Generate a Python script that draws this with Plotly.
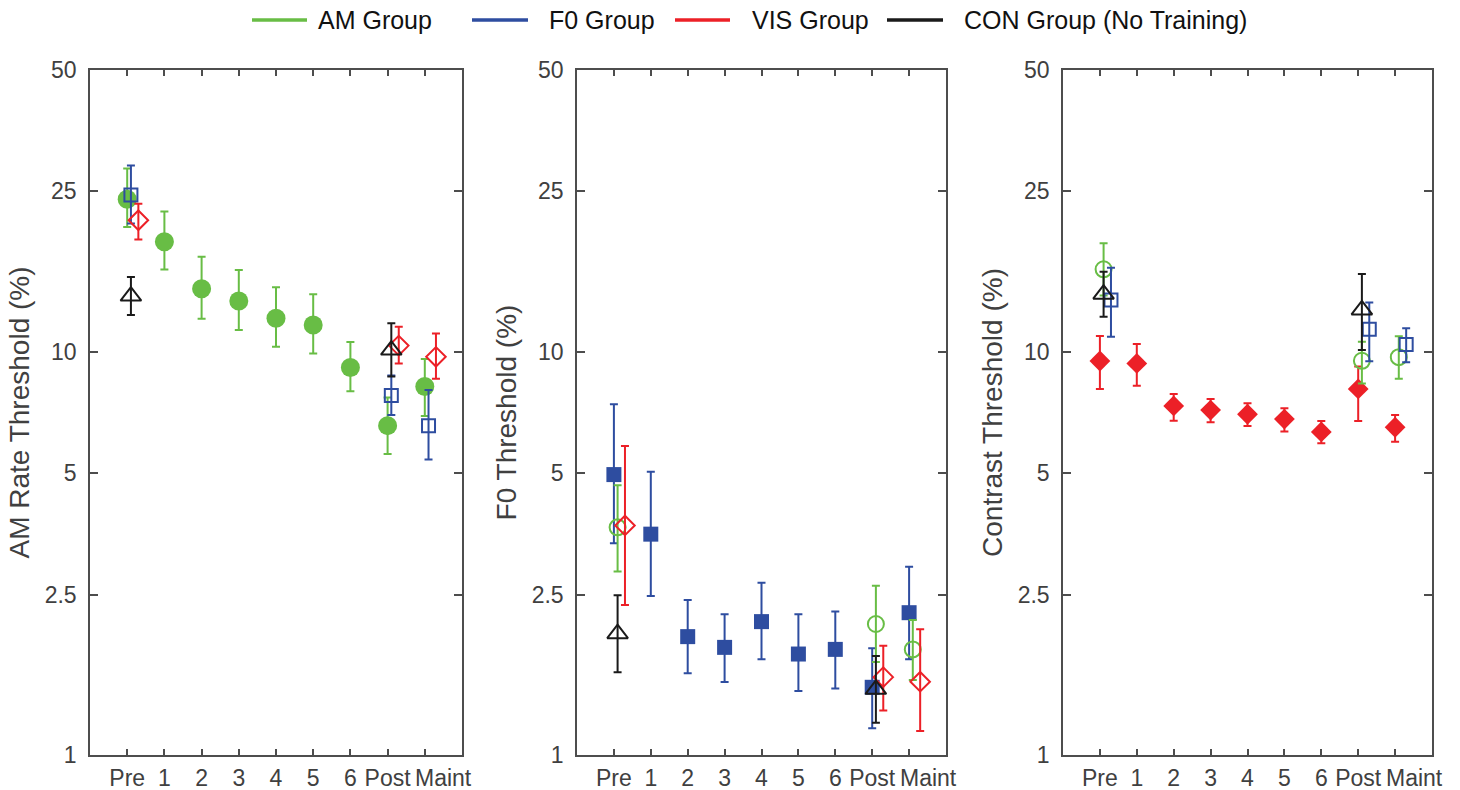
import numpy as np
import plotly.graph_objects as go

# ---------------- data ----------------
sessions = ["Pre", "1", "2", "3", "4", "5", "6", "Post", "Maint"]
test_sessions = ["Pre", "Post", "Maint"]
con_sessions = ["Pre", "Post"]

# Panel 1: AM rate threshold (%)
p1_am_mean = [23.9, 18.75, 14.34, 13.36, 12.11, 11.65, 9.14, 6.56, 8.2]
p1_am_hi = [28.5, 22.3, 17.2, 15.96, 14.45, 13.89, 10.57, 7.7, 9.6]
p1_am_lo = [20.4, 16.0, 12.08, 11.33, 10.3, 9.91, 7.98, 5.58, 6.93]
p1_f0_mean = [24.5, 7.79, 6.56]
p1_f0_hi = [29.0, 8.73, 8.04]
p1_f0_lo = [20.8, 6.97, 5.41]
p1_vis_mean = [21.2, 10.36, 9.72]
p1_vis_hi = [23.3, 11.54, 11.11]
p1_vis_lo = [19.0, 9.36, 8.58]
p1_con_mean = [13.75, 10.1]
p1_con_hi = [15.33, 11.77]
p1_con_lo = [12.34, 8.68]

# Panel 2: F0 threshold (%)
p2_f0_mean = [4.96, 3.53, 1.966, 1.849, 2.142, 1.78, 1.828, 1.472, 2.254]
p2_f0_hi = [7.41, 5.04, 2.423, 2.233, 2.676, 2.233, 2.268, 1.84, 2.93]
p2_f0_lo = [3.35, 2.48, 1.594, 1.517, 1.727, 1.441, 1.463, 1.165, 1.727]
p2_am_mean = [3.67, 2.113, 1.828]
p2_am_hi = [4.67, 2.63, 2.162]
p2_am_lo = [2.85, 1.70, 1.535]
p2_vis_mean = [3.71, 1.56, 1.52]
p2_vis_hi = [5.84, 1.865, 2.05]
p2_vis_lo = [2.355, 1.29, 1.147]
p2_con_mean = [2.0, 1.455]
p2_con_hi = [2.49, 1.76]
p2_con_lo = [1.604, 1.203]

# Panel 3: contrast threshold (%)
p3_vis_mean = [9.49, 9.36, 7.34, 7.17, 7.0, 6.81, 6.33, 8.09, 6.5]
p3_vis_hi = [10.94, 10.45, 7.86, 7.64, 7.45, 7.24, 6.74, 9.19, 6.97]
p3_vis_lo = [8.09, 8.24, 6.75, 6.69, 6.55, 6.34, 5.93, 6.74, 5.98]
p3_am_mean = [16.02, 9.5, 9.7]
p3_am_hi = [18.58, 10.59, 10.93]
p3_am_lo = [13.8, 8.35, 8.58]
p3_f0_mean = [13.45, 11.37, 10.42]
p3_f0_hi = [16.17, 13.25, 11.44]
p3_f0_lo = [10.9, 9.47, 9.42]
p3_con_mean = [13.9, 12.7]
p3_con_hi = [15.8, 15.6]
p3_con_lo = [12.22, 10.1]

group_names = ["AM Group", "F0 Group", "VIS Group", "CON Group (No Training)"]
y_titles = ["AM Rate Threshold (%)", "F0 Threshold (%)", "Contrast Threshold (%)"]
y_tickvals = [1, 2.5, 5, 10, 25, 50]
y_ticktext = ["1", "2.5", "5", "10", "25", "50"]

# ---------------- styles ----------------
COL = {"AM": "#68BD45", "F0": "#2E4DA0", "VIS": "#EC2027", "CON": "#1A1A1A"}
AX = "#4D4D4D"
TXT = "#404040"
FONT = "Liberation Sans, Arial, Helvetica, sans-serif"
SYM = {"AM": "circle", "F0": "square", "VIS": "diamond", "CON": "triangle-up"}
SIZE_FILLED = {"AM": 19, "F0": 15, "VIS": 16}
SIZE_OPEN = {"AM": 16, "F0": 13, "VIS": 15, "CON": 18}
TICK_FONT = dict(size=23, color=TXT, family=FONT)

pos = {s: i + 1 for i, s in enumerate(sessions)}
# the last label sits a little to the right of its tick in the reference,
# so it is written separately (below) instead of as an axis tick label
x_ticktext = sessions[:-1] + [""]

fig = go.Figure()


def add(group, sess, mean, hi, lo, filled, offset, axis):
    xs = [pos[s] + offset for s in sess]
    mean_a = np.array(mean)
    up = np.array(hi) - mean_a
    dn = mean_a - np.array(lo)
    c = COL[group]
    if filled:
        marker = dict(symbol=SYM[group], size=SIZE_FILLED[group], color=c,
                      line=dict(width=0, color=c))
    else:
        marker = dict(symbol=SYM[group] + "-open", size=SIZE_OPEN[group], color=c,
                      line=dict(width=2, color=c))
    fig.add_trace(go.Scatter(
        x=xs, y=mean, mode="markers", marker=marker,
        error_y=dict(type="data", symmetric=False, array=up, arrayminus=dn,
                     color=c, thickness=2, width=4),
        xaxis="x" + ("" if axis == 1 else str(axis)),
        yaxis="y" + ("" if axis == 1 else str(axis)),
        showlegend=False, name=group, hoverinfo="x+y"))


# Panel 1 (AM trained)
add("AM", sessions, p1_am_mean, p1_am_hi, p1_am_lo, True, 0.0, 1)
add("F0", test_sessions, p1_f0_mean, p1_f0_hi, p1_f0_lo, False, 0.1, 1)
add("VIS", test_sessions, p1_vis_mean, p1_vis_hi, p1_vis_lo, False, 0.3, 1)
add("CON", con_sessions, p1_con_mean, p1_con_hi, p1_con_lo, False, 0.1, 1)
# Panel 2 (F0 trained)
add("F0", sessions, p2_f0_mean, p2_f0_hi, p2_f0_lo, True, 0.0, 2)
add("AM", test_sessions, p2_am_mean, p2_am_hi, p2_am_lo, False, 0.1, 2)
add("VIS", test_sessions, p2_vis_mean, p2_vis_hi, p2_vis_lo, False, 0.3, 2)
add("CON", con_sessions, p2_con_mean, p2_con_hi, p2_con_lo, False, 0.1, 2)
# Panel 3 (VIS trained)
add("VIS", sessions, p3_vis_mean, p3_vis_hi, p3_vis_lo, True, 0.0, 3)
add("AM", test_sessions, p3_am_mean, p3_am_hi, p3_am_lo, False, 0.1, 3)
add("F0", test_sessions, p3_f0_mean, p3_f0_hi, p3_f0_lo, False, 0.3, 3)
add("CON", con_sessions, p3_con_mean, p3_con_hi, p3_con_lo, False, 0.1, 3)

W, H = 1460, 790
x_domains = [[90 / W, 462 / W], [577 / W, 946 / W], [1063 / W, 1432 / W]]
y_domain = [(H - 755) / H, (H - 70) / H]

layout = dict(width=W, height=H, margin=dict(l=0, r=0, t=0, b=0),
              paper_bgcolor="white", plot_bgcolor="white",
              font=dict(family=FONT, color=TXT), showlegend=False)

annotations = []
for k in range(3):
    sfx = "" if k == 0 else str(k + 1)
    layout["xaxis" + sfx] = dict(
        domain=x_domains[k], anchor="y" + sfx, range=[0, 10],
        tickmode="array", tickvals=list(range(1, 10)), ticktext=x_ticktext,
        ticks="inside", ticklen=6, tickwidth=1.5, tickcolor=AX,
        showline=True, linecolor=AX, linewidth=1.5, mirror="ticks",
        showgrid=False, zeroline=False, automargin=False, tickangle=0,
        tickfont=TICK_FONT, ticklabelstandoff=2)
    layout["yaxis" + sfx] = dict(
        domain=y_domain, anchor="x" + sfx, type="log", range=[0, np.log10(50)],
        tickmode="array", tickvals=y_tickvals, ticktext=y_ticktext,
        ticks="inside", ticklen=8, tickwidth=1.5, tickcolor=AX,
        showline=True, linecolor=AX, linewidth=1.5, mirror="ticks",
        showgrid=False, zeroline=False, automargin=False,
        tickfont=TICK_FONT, ticklabelstandoff=7,
        title=dict(text=y_titles[k], font=dict(size=28, color=TXT, family=FONT), standoff=7))
    # last session label, placed just right of its tick
    annotations.append(dict(xref="x" + sfx, yref="paper", x=pos[sessions[-1]],
                            y=1 - 778 / H, text=sessions[-1], showarrow=False,
                            xanchor="center", yanchor="middle", xshift=19,
                            font=TICK_FONT))

# legend (drawn as layout lines + text, top centre)
leg_keys = ["AM", "F0", "VIS", "CON"]
leg_line_x = [(252, 307), (472, 528), (675, 730), (887, 943)]
leg_text_x = [316, 547, 750, 962]
leg_y = 1 - 20 / H
shapes = []
for key, name, (a, b), tx in zip(leg_keys, group_names, leg_line_x, leg_text_x):
    shapes.append(dict(type="line", xref="paper", yref="paper", x0=a / W, x1=b / W,
                       y0=leg_y, y1=leg_y, line=dict(color=COL[key], width=3.5)))
    annotations.append(dict(xref="paper", yref="paper", x=tx / W, y=leg_y, text=name,
                            showarrow=False, xanchor="left", yanchor="middle",
                            font=dict(size=25, color="#111111", family=FONT)))
layout["shapes"] = shapes
layout["annotations"] = annotations

fig.update_layout(**layout)
fig.write_html("out.html", config={"displayModeBar": False},
               post_script="document.body.style.margin='0px';")
